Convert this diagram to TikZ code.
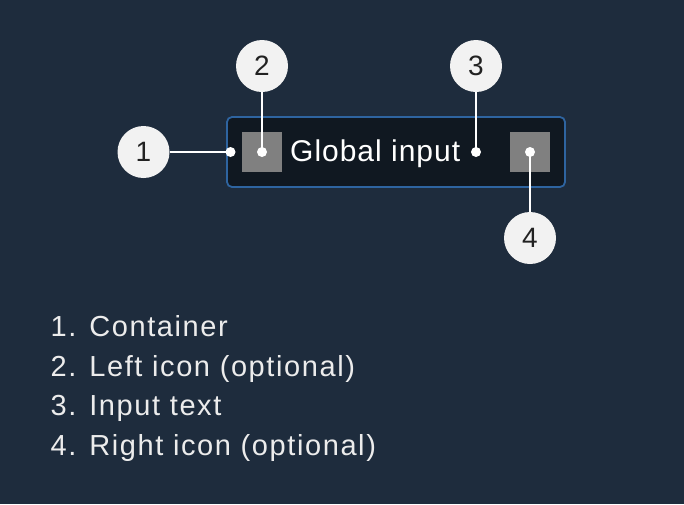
\documentclass[tikz,border=0pt]{standalone}
\usepackage{fontspec}
\setmainfont{Liberation Sans}
\newfontfamily\listfont[LetterSpace=5.5]{Liberation Sans}
\newfontfamily\inputfont[LetterSpace=3.3]{Liberation Sans}
\definecolor{bgc}{RGB}{30,44,61}
\definecolor{boxfill}{RGB}{16,24,33}
\definecolor{boxborder}{RGB}{46,100,160}
\definecolor{icongray}{RGB}{128,128,128}
\definecolor{circfill}{RGB}{242,242,242}
\definecolor{numtext}{RGB}{34,34,34}
\definecolor{listtext}{RGB}{236,236,236}
\tikzset{
  badge/.style={circle, fill=circfill, minimum size=52pt, inner sep=0pt, text=numtext, font=\fontsize{28}{28}\selectfont},
  dotmark/.style={circle, fill=white, minimum size=10pt, inner sep=0pt},
  iconbox/.style={fill=icongray, minimum size=40pt, inner sep=0pt},
  leader/.style={draw=white, line width=2pt},
  listitem/.style={anchor=base west, inner sep=0pt, text=listtext, font=\listfont\fontsize{29}{29}\selectfont},
}
\begin{document}
\begin{tikzpicture}[x=1pt, y=-1pt]
\fill[bgc] (0,0) rectangle (684,504);
\useasboundingbox (0,0) rectangle (684,504);
\draw[boxborder, fill=boxfill, line width=1.8pt, rounded corners=5pt] (227,117) rectangle (565,187);
\node[iconbox] (iconL) at (262,152) {};
\node[iconbox] (iconR) at (530,152) {};
\node[anchor=base west, inner sep=0pt, text=white, font=\inputfont\fontsize{30}{30}\selectfont] (txt) at (290,161.3) {Global input};
\node[dotmark] (d1) at (230.5,152) {};
\node[dotmark] (d2) at (262,152) {};
\node[dotmark] (d3) at (476,152) {};
\node[dotmark] (d4) at (530,152) {};
\node[badge] (c1) at (143.5,152) {1};
\node[badge] (c2) at (262,66) {2};
\node[badge] (c3) at (476,66) {3};
\node[badge] (c4) at (530,238) {4};
\draw[leader] (c1.east) -- (d1.center);
\draw[leader] (c2.south) -- (d2.center);
\draw[leader] (c3.south) -- (d3.center);
\draw[leader] (d4.center) -- (c4.north);
\node[listitem] (l1) at (50.5,336) {1. Container};
\node[listitem] (l2) at (50.5,376) {2. Left icon (optional)};
\node[listitem] (l3) at (50.5,415.5) {3. Input text};
\node[listitem] (l4) at (50.5,455) {4. Right icon (optional)};
\end{tikzpicture}
\end{document}
